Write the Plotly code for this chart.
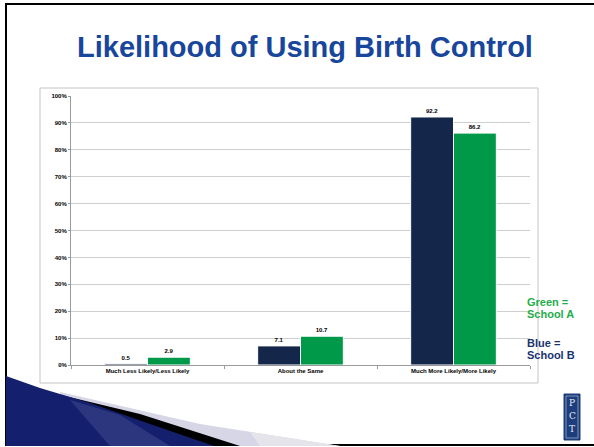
import plotly.graph_objects as go

categories = ["Much Less Likely/Less Likely", "About the Same", "Much More Likely/More Likely"]
school_b = [0.5, 7.1, 92.2]   # navy = School B
school_a = [2.9, 10.7, 86.2]  # green = School A
y_ticks = [0, 10, 20, 30, 40, 50, 60, 70, 80, 90, 100]
y_tick_labels = [f"{v}%" for v in y_ticks]
title = "Likelihood of Using Birth Control"

W, H = 594, 447
ML, MR, MT, MB = 71, 64, 96, 82
PW, PH = W - ML - MR, H - MT - MB

def px(x):
    return (x - ML) / PW

def py(y):
    return (H - MB - y) / PH

NAVY = "#14274a"
GREEN = "#00994a"
small = dict(family="Liberation Sans, Arial", size=6, color="#000000", weight="bold")

fig = go.Figure()
fig.add_trace(go.Bar(name="School B", x=categories, y=school_b, marker=dict(color=NAVY, line=dict(color="white", width=1)),
                     text=[f"{v:.1f}" for v in school_b], textposition="outside", textfont=small, cliponaxis=False))
fig.add_trace(go.Bar(name="School A", x=categories, y=school_a, marker=dict(color=GREEN, line=dict(color="white", width=1)),
                     text=[f"{v:.1f}" for v in school_a], textposition="outside", textfont=small, cliponaxis=False))

def poly(points):
    return "M " + " L ".join(f"{px(x):.5f},{py(y):.5f}" for x, y in points) + " Z"

shapes = []
# slide frame
shapes.append(dict(type="line", xref="paper", yref="paper", x0=px(6), x1=px(6), y0=py(3), y1=py(445), line=dict(color="black", width=2)))
shapes.append(dict(type="line", xref="paper", yref="paper", x0=px(5), x1=px(600), y0=py(4), y1=py(4), line=dict(color="black", width=2)))
shapes.append(dict(type="line", xref="paper", yref="paper", x0=px(5), x1=px(600), y0=py(445), y1=py(445), line=dict(color="black", width=2)))
# chart box
shapes.append(dict(type="rect", xref="paper", yref="paper", x0=px(40), x1=px(538), y0=py(88), y1=py(383),
                   line=dict(color="#c4c4c4", width=1), layer="below"))
# swoosh decoration
shapes.append(dict(type="path", xref="paper", yref="paper", path=poly([(60, 392), (200, 424), (340, 446), (230, 446), (60, 396)]),
                   fillcolor="#d6d6e6", line=dict(width=0)))
shapes.append(dict(type="path", xref="paper", yref="paper", path=poly([(250, 432), (340, 446), (260, 446)]),
                   fillcolor="#e4e4ea", line=dict(width=0)))
shapes.append(dict(type="path", xref="paper", yref="paper", path=poly([(40, 390), (140, 414), (240, 446), (212, 446), (40, 393)]),
                   fillcolor="#000000", line=dict(width=0)))
shapes.append(dict(type="path", xref="paper", yref="paper", path=poly([(6, 376), (40, 388), (90, 403), (150, 424), (214, 446), (6, 446)]),
                   fillcolor="#14206e", line=dict(width=0)))
shapes.append(dict(type="path", xref="paper", yref="paper", path=poly([(70, 400), (120, 415), (170, 446), (110, 446)]),
                   fillcolor="#3b468a", line=dict(width=0), opacity=0.6))
# logo
shapes.append(dict(type="rect", xref="paper", yref="paper", x0=px(564), x1=px(580), y0=py(394), y1=py(440),
                   fillcolor="#1d3d7c", line=dict(color="#1d3d7c", width=1)))
shapes.append(dict(type="rect", xref="paper", yref="paper", x0=px(566), x1=px(578), y0=py(396), y1=py(438),
                   fillcolor="rgba(0,0,0,0)", line=dict(color="#c8d0e0", width=0.6)))

annotations = [
    dict(text=title, xref="paper", yref="paper", x=px(305), y=py(47), showarrow=False, xanchor="center", yanchor="middle",
         font=dict(family="Liberation Sans, Arial", size=29, color="#17469c", weight="bold")),
    dict(text="Green =", xref="paper", yref="paper", x=px(525), y=py(302), showarrow=False, xanchor="left", yanchor="middle",
         font=dict(family="Liberation Sans, Arial", size=11, color="#1fae4a", weight="bold")),
    dict(text="School A", xref="paper", yref="paper", x=px(525), y=py(314), showarrow=False, xanchor="left", yanchor="middle",
         font=dict(family="Liberation Sans, Arial", size=11, color="#1fae4a", weight="bold")),
    dict(text="Blue =", xref="paper", yref="paper", x=px(525), y=py(343), showarrow=False, xanchor="left", yanchor="middle",
         font=dict(family="Liberation Sans, Arial", size=11, color="#1b3370", weight="bold")),
    dict(text="School B", xref="paper", yref="paper", x=px(525), y=py(355), showarrow=False, xanchor="left", yanchor="middle",
         font=dict(family="Liberation Sans, Arial", size=11, color="#1b3370", weight="bold")),
]
for i, ch in enumerate(["P", "C", "T"]):
    annotations.append(dict(text=ch, xref="paper", yref="paper", x=px(572), y=py(403 + i * 13), showarrow=False,
                            xanchor="center", yanchor="middle",
                            font=dict(family="DejaVu Serif", size=9, color="#e8ecf4")))

fig.update_layout(
    width=W, height=H,
    margin=dict(l=ML, r=MR, t=MT, b=MB, autoexpand=False),
    paper_bgcolor="white", plot_bgcolor="white",
    barmode="group", bargap=0.44, bargroupgap=0.0,
    showlegend=False,
    shapes=shapes, annotations=annotations,
    font=dict(family="Liberation Sans, Arial"),
    xaxis=dict(type="category", showline=True, linecolor="#9a9a9a", linewidth=1, ticks="outside", tickson="boundaries",
               ticklen=3, tickcolor="#9a9a9a", tickfont=small, showgrid=False, fixedrange=True),
    yaxis=dict(range=[0, 100], tickvals=y_ticks, ticktext=y_tick_labels, showline=True, linecolor="#9a9a9a", linewidth=1,
               ticks="outside", ticklen=2, tickcolor="#9a9a9a", tickfont=small, showgrid=True, gridcolor="#cfcfcf",
               gridwidth=1, zeroline=False, fixedrange=True),
)

fig.write_html("out.html", config={"displayModeBar": False},
               post_script="document.body.style.margin='0';document.body.style.overflow='hidden';")
